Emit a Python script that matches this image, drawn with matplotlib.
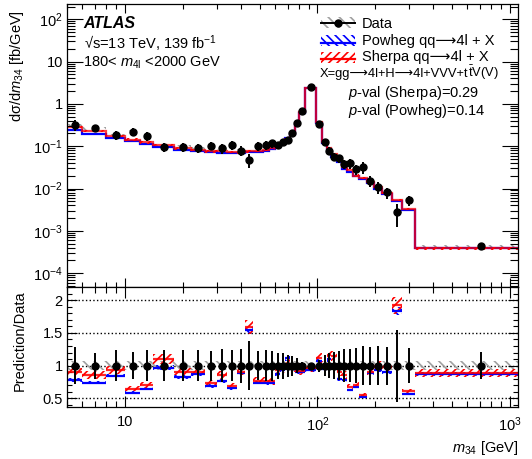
import numpy as np
import matplotlib
matplotlib.use("Agg")
import matplotlib.pyplot as plt
from matplotlib.patches import Rectangle
from matplotlib.lines import Line2D
from matplotlib.ticker import FixedLocator, FixedFormatter, NullFormatter, LogLocator, MultipleLocator

plt.rcParams['font.family'] = ['Liberation Sans', 'DejaVu Sans']
plt.rcParams['mathtext.fontset'] = 'custom'
plt.rcParams['mathtext.rm'] = 'Liberation Sans'
plt.rcParams['mathtext.it'] = 'Liberation Sans:italic'
plt.rcParams['mathtext.bf'] = 'Liberation Sans:bold'
plt.rcParams['hatch.linewidth'] = 1.2

# m34 binning [GeV]
bin_edges = [5, 6, 8, 10, 12, 14, 18, 22, 26, 30, 34, 38, 42, 46, 52, 56, 60, 64, 68,
             72, 76, 80, 86, 98, 106, 112, 118, 126, 134, 142, 152, 164, 180, 196,
             216, 244, 274, 320, 1100]

# measured dsigma/dm34 [fb/GeV]
data_xsec = [0.318, 0.266, 0.185, 0.221, 0.175, 0.098, 0.098, 0.089, 0.103, 0.089,
             0.107, 0.0786, 0.0473, 0.101, 0.107, 0.117, 0.107, 0.124, 0.141, 0.210,
             0.349, 0.683, 2.48, 0.330, 0.128, 0.0786, 0.0567, 0.0518, 0.0381, 0.0395,
             0.0285, 0.0318, 0.0153, 0.0107, 0.0081, 0.00279, 0.00536, 0.000437]

# total relative uncertainty of the measurement
data_rel_err = [0.28, 0.20, 0.24, 0.21, 0.24, 0.24, 0.24, 0.24, 0.23, 0.25,
                0.24, 0.26, 0.37, 0.22, 0.24, 0.23, 0.20, 0.20, 0.17, 0.15,
                0.11, 0.06, 0.03, 0.09, 0.16, 0.19, 0.21, 0.22, 0.25, 0.25,
                0.27, 0.30, 0.29, 0.30, 0.29, 0.55, 0.27, 0.21]

# prediction / data
sherpa_ratio = [0.91, 0.86, 0.93, 0.65, 0.70, 1.10, 0.91, 0.91, 0.73, 0.86,
                0.685, 0.91, 1.59, 0.77, 0.77, 0.76, 0.93, 0.95, 1.03, 0.96,
                0.92, 0.92, 0.96, 1.12, 1.00, 1.17, 1.15, 0.90, 0.86, 0.68,
                0.71, 0.55, 0.91, 1.00, 0.98, 1.92, 0.61, 0.885]
powheg_ratio = [0.78, 0.74, 0.85, 0.59, 0.645, 0.97, 0.83, 0.87, 0.69, 0.77,
                0.655, 0.89, 1.54, 0.74, 0.735, 0.74, 0.88, 0.93, 1.11, 0.95,
                0.90, 0.91, 0.94, 1.07, 0.95, 1.10, 1.00, 0.80, 0.78, 0.63,
                0.68, 0.53, 0.89, 0.93, 0.90, 1.83, 0.57, 0.875]

DATA_SYST = 0.07
SHERPA_UNC = 0.065
POWHEG_UNC = 0.035

edges = np.array(bin_edges, float)
data = np.array(data_xsec)
err = np.array(data_rel_err)
r_sh = np.array(sherpa_ratio)
r_pw = np.array(powheg_ratio)
sherpa = r_sh * data
powheg = r_pw * data
centers = 0.5 * (edges[:-1] + edges[1:])


def step(v):
    return np.append(v, v[-1])


W, H = 532, 459
fig = plt.figure(figsize=(W / 100, H / 100), dpi=100)


def frame(left, top, right, bottom):
    return [left / W, 1 - bottom / H, (right - left) / W, (bottom - top) / H]


def px(x, y):
    return x / W, 1 - y / H


ax = fig.add_axes(frame(67, 4, 518, 287))
rax = fig.add_axes(frame(67, 287, 518, 407))

GRAY = '#a0a0a0'
ARROW = '\u27f6'

# ---- upper panel ----
ax.fill_between(edges, step(data * (1 - DATA_SYST)), step(data * (1 + DATA_SYST)),
                step='post', facecolor='none', edgecolor=GRAY, hatch='\\\\\\', lw=0)
ax.fill_between(edges, step(powheg * (1 - POWHEG_UNC)), step(powheg * (1 + POWHEG_UNC)),
                step='post', facecolor='none', edgecolor='blue', hatch='\\\\\\\\', lw=0)
ax.stairs(powheg, edges, baseline=None, color='blue', lw=1.6)
ax.fill_between(edges, step(sherpa * (1 - SHERPA_UNC)), step(sherpa * (1 + SHERPA_UNC)),
                step='post', facecolor='none', edgecolor='red', hatch='////', lw=0)
ax.stairs(sherpa, edges, baseline=None, color='red', lw=1.6, alpha=0.75)
ax.errorbar(centers, data, yerr=data * err, fmt='o', color='black', ms=5,
            elinewidth=1.4, capsize=0, zorder=5)

ax.set_xscale('log')
ax.set_yscale('log')
ax.set_xlim(5, 1100)
ax.set_ylim(4.7e-5, 230)

yt = [1e-4, 1e-3, 1e-2, 1e-1, 1, 10, 100]
ax.yaxis.set_major_locator(FixedLocator(yt))
ax.yaxis.set_major_formatter(FixedFormatter(['$10^{-4}$', '$10^{-3}$', '$10^{-2}$',
                                             '$10^{-1}$', '1', '10', '$10^{2}$']))
ax.yaxis.set_minor_locator(LogLocator(base=10, subs=np.arange(2, 10), numticks=20))
ax.yaxis.set_minor_formatter(NullFormatter())
ax.xaxis.set_major_locator(FixedLocator([10, 100, 1000]))
ax.xaxis.set_minor_locator(LogLocator(base=10, subs=np.arange(2, 10), numticks=20))
ax.tick_params(labelbottom=False)
ax.tick_params(axis='y', which='major', direction='in', length=11.5, width=0.8,
               left=True, right=True, labelsize=10.5, pad=3)
ax.tick_params(axis='y', which='minor', direction='in', length=6, width=0.8,
               left=True, right=True)
ax.tick_params(axis='x', which='major', direction='in', length=6.5, width=0.8,
               top=True, bottom=True)
ax.tick_params(axis='x', which='minor', direction='in', length=3.5, width=0.8,
               top=True, bottom=True)
ax.set_ylabel('dσ/d$m_{34}$ [fb/GeV]', fontsize=10.5, loc='top')
ax.yaxis.set_label_coords(-0.09, 0.98)

# ---- ratio panel ----
for y in [0.5, 1.0, 1.5, 2.0]:
    rax.axhline(y, ls=':', color='black', lw=1, zorder=0)
ones = np.ones(len(edges))
rax.fill_between(edges, ones * (1 - DATA_SYST), ones * (1 + DATA_SYST), step='post',
                 facecolor='none', edgecolor=GRAY, hatch='\\\\\\', lw=0)
rax.fill_between(edges, step(r_pw * (1 - POWHEG_UNC)), step(r_pw * (1 + POWHEG_UNC)),
                 step='post', facecolor='none', edgecolor='blue', hatch='\\\\\\\\', lw=0)
rax.hlines(r_pw, edges[:-1], edges[1:], color='blue', lw=1.6)
rax.fill_between(edges, step(r_sh * (1 - SHERPA_UNC)), step(r_sh * (1 + SHERPA_UNC)),
                 step='post', facecolor='none', edgecolor='red', hatch='////', lw=0)
rax.hlines(r_sh, edges[:-1], edges[1:], color='red', lw=1.6, alpha=0.85)
rax.errorbar(centers, np.ones_like(centers), yerr=err, fmt='o', color='black', ms=5,
             elinewidth=1.4, capsize=0, zorder=5)

rax.set_xscale('log')
rax.set_xlim(5, 1100)
rax.set_ylim(0.37, 2.2)
rax.xaxis.set_major_locator(FixedLocator([10, 100, 1000]))
rax.xaxis.set_major_formatter(FixedFormatter(['10', '$10^{2}$', '$10^{3}$']))
rax.xaxis.set_minor_locator(LogLocator(base=10, subs=np.arange(2, 10), numticks=20))
rax.xaxis.set_minor_formatter(NullFormatter())
rax.yaxis.set_major_locator(FixedLocator([0.5, 1.0, 1.5, 2.0]))
rax.yaxis.set_major_formatter(FixedFormatter(['0.5', '1', '1.5', '2']))
rax.yaxis.set_minor_locator(MultipleLocator(0.1))
rax.tick_params(axis='both', which='major', direction='in', top=True, right=True,
                labelsize=10.5, width=0.8)
rax.tick_params(axis='x', which='major', length=8, pad=6)
rax.tick_params(axis='x', which='minor', direction='in', length=4, width=0.8,
                top=True, bottom=True)
rax.tick_params(axis='y', which='major', length=7, pad=3)
rax.tick_params(axis='y', which='minor', direction='in', length=3.5, width=0.8,
                left=True, right=True)
rax.set_ylabel('Prediction/Data', fontsize=10.5, loc='top')
rax.yaxis.set_label_coords(-0.09, 0.975)
rax.set_xlabel('$m_{34}$ [GeV]', fontsize=10.5, loc='right')
rax.xaxis.set_label_coords(1.0, -0.27)

for a in (ax, rax):
    for s in a.spines.values():
        s.set_linewidth(0.9)

# ---- labels ----
fig.text(*px(83, 28), 'ATLAS', fontsize=11.5, fontweight='bold', fontstyle='italic',
         va='baseline')
fig.text(*px(84, 49), '√s=13 TeV, 139 fb$^{-1}$', fontsize=10.5, va='baseline')
fig.text(*px(83, 66.5), '180< $m_{4\\mathrm{l}}$ <2000 GeV', fontsize=10.5, va='baseline')

# legend
def legend_box(y_top, y_bot, color, hatch):
    x0, y0 = px(321, y_bot)
    x1, y1 = px(355, y_top)
    fig.patches.append(Rectangle((x0, y0), x1 - x0, y1 - y0, transform=fig.transFigure,
                                 facecolor='none', edgecolor=color, hatch=hatch, lw=0))

legend_box(17, 28, GRAY, '\\\\\\')
fig.lines.append(Line2D([px(321, 0)[0], px(355, 0)[0]], [px(0, 23)[1]] * 2,
                        transform=fig.transFigure, color='black', lw=1.4))
fig.lines.append(Line2D([px(338, 0)[0]], [px(0, 23)[1]], transform=fig.transFigure,
                        color='black', marker='o', ms=5))
legend_box(35, 46, 'blue', '\\\\\\\\')
fig.lines.append(Line2D([px(321, 0)[0], px(355, 0)[0]], [px(0, 42.5)[1]] * 2,
                        transform=fig.transFigure, color='blue', lw=1.6))
legend_box(52, 63, 'red', '////')
fig.lines.append(Line2D([px(321, 0)[0], px(355, 0)[0]], [px(0, 59)[1]] * 2,
                        transform=fig.transFigure, color='red', lw=1.6))

fig.text(*px(362, 27.5), 'Data', fontsize=10.5, va='baseline')
fig.text(*px(362, 44.5), f'Powheg qq{ARROW}4l + X', fontsize=10.5, va='baseline')
fig.text(*px(362, 61), f'Sherpa qq{ARROW}4l + X', fontsize=10.5, va='baseline')

# process list: plain part, then the t-bar part in mathtext right after it
proc_a = fig.text(*px(320, 76.5), f'X=gg{ARROW}4l+H{ARROW}4l+VVV+t', fontsize=9.3,
                  va='baseline')
renderer = fig.canvas.get_renderer()
bb = proc_a.get_window_extent(renderer=renderer)
fig.text(bb.x1 / W, px(0, 76.5)[1], '$\\bar{\\mathrm{t}}$V(V)', fontsize=9.3,
         va='baseline')

fig.text(*px(348, 97), '$p$-val (Sherpa)=0.29', fontsize=10.5, va='baseline')
fig.text(*px(348, 115), '$p$-val (Powheg)=0.14', fontsize=10.5, va='baseline')

fig.savefig('out.png', dpi=100)
